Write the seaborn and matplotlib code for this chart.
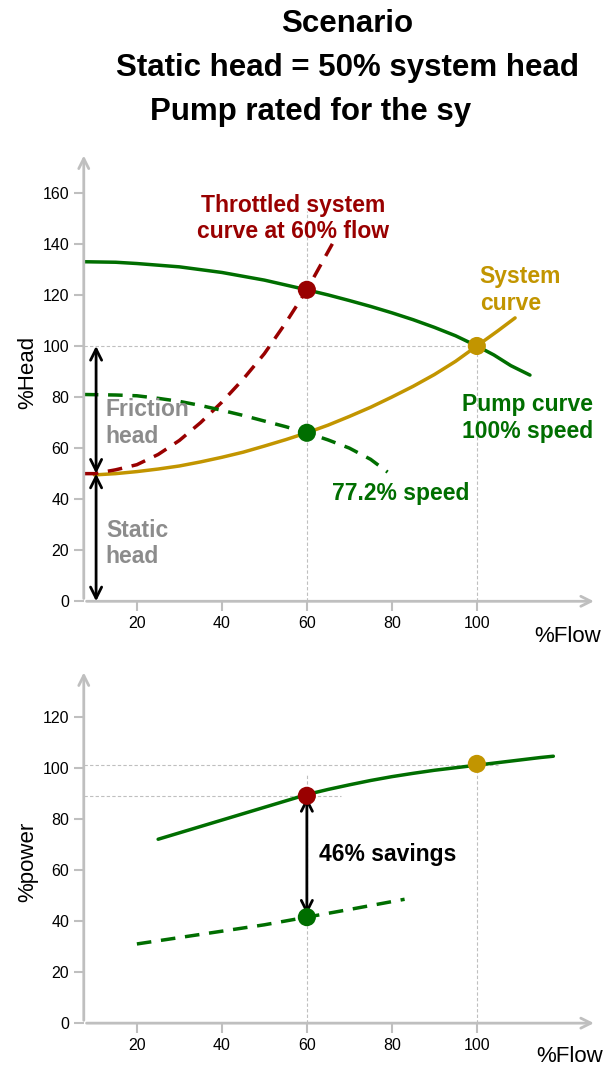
import matplotlib
matplotlib.use("Agg")
import matplotlib.pyplot as plt
import pandas as pd
import seaborn as sns

# --- data ---
pump_flow = [7.5, 15, 20, 30, 40, 50, 60, 65, 70, 75, 80, 85, 90, 95, 100, 104, 108, 112.5]
pump_head = [133, 132.8, 132.3, 131, 128.8, 125.8, 122, 120, 117.8, 115.5, 113, 110.3,
             107.3, 104, 100, 96.5, 92.3, 88.6]

system_flow = [10, 15, 20, 25, 30, 35, 40, 45, 50, 55, 60, 65, 70, 75, 80, 85, 90, 95,
               100, 105, 109]
system_head = [49.5, 50, 50.8, 51.8, 53, 54.6, 56.4, 58.4, 60.8, 63.3, 66, 69, 72.4, 76,
               80, 84.2, 88.8, 94, 100, 106, 111]

throttled_flow = [7.5, 10, 15, 20, 25, 30, 35, 40, 45, 50, 55, 60, 63, 66]
throttled_head = [50, 50, 51.5, 53.5, 57.5, 63, 70, 78, 87, 97, 109, 122, 131, 140]

reduced_flow = [7.5, 15, 20, 25, 30, 35, 40, 45, 50, 55, 60, 65, 70, 75, 79]
reduced_head = [81, 80.8, 80.5, 79.5, 78.3, 76.7, 74.8, 72.8, 70.6, 68.4, 66, 63.2, 60,
                55.6, 50.6]

head_pts_flow = [60, 100, 60]
head_pts_head = [122, 100, 66]

power_full_flow = [25, 30, 35, 40, 45, 50, 55, 60, 65, 70, 75, 80, 85, 90, 95, 100, 105,
                   110, 115, 118]
power_full = [72, 74.5, 77, 79.5, 82, 84.5, 87, 89.5, 91.5, 93.3, 95, 96.5, 97.8, 99, 100,
              101, 102, 103, 104, 104.5]

power_red_flow = [20, 30, 40, 50, 60, 70, 83]
power_red = [31, 33.5, 36, 38.5, 41.5, 44.5, 48.5]

power_pts_flow = [60, 100, 60]
power_pts = [89, 101.5, 41.5]

pt_names = ["throttled", "design", "reduced"]
flow_ticks = [20, 40, 60, 80, 100]
head_ticks = [0, 20, 40, 60, 80, 100, 120, 140, 160]
power_ticks = [0, 20, 40, 60, 80, 100, 120]

RED = "#990000"
GREEN = "#006e00"
GOLD = "#c29500"
GRAY = "#bfbfbf"
TXT_GRAY = "#8c8c8c"
pt_colors = {"throttled": RED, "design": GOLD, "reduced": GREEN}
DASH = (4.2, 2.8)
LW = 2.5

sns.set_style("white")
plt.rcParams["font.family"] = ["Liberation Sans", "DejaVu Sans"]
plt.rcParams["text.color"] = "black"

fig = plt.figure(figsize=(6.07, 10.68), dpi=100)
ax1 = fig.add_axes([0.138, 0.437, 0.845, 0.42])
ax2 = fig.add_axes([0.138, 0.042, 0.845, 0.331])


def style_axis(ax, ylim, yticks):
    ax.set_xlim(7.5, 128.2)
    ax.set_ylim(*ylim)
    for s in ax.spines.values():
        s.set_visible(False)
    ax.set_xticks(flow_ticks)
    ax.set_yticks(yticks)
    ax.tick_params(axis="both", colors=GRAY, labelcolor="black", labelsize=11.5,
                   length=7, width=1.5, direction="out", left=True, bottom=True)
    ax.set_xlabel("")
    ax.set_ylabel("")
    arrow = dict(arrowstyle="->", color=GRAY, lw=2, mutation_scale=18)
    ax.annotate("", xy=(0, 1), xytext=(0, 0), xycoords="axes fraction",
                arrowprops=arrow, annotation_clip=False)
    ax.annotate("", xy=(1, 0), xytext=(0, 0), xycoords="axes fraction",
                arrowprops=arrow, annotation_clip=False)


def ref_line(ax, xs, ys):
    ax.plot(xs, ys, color=GRAY, lw=0.8, ls=(0, (3, 2)), zorder=1)


def dashed(ax, x, y, color):
    sns.lineplot(x=x, y=y, ax=ax, color=color, lw=LW)
    ax.lines[-1].set_dashes(DASH)


# ---------------- head chart ----------------
ref_line(ax1, [7.5, 102], [100, 100])
ref_line(ax1, [60, 60], [0, 153])
ref_line(ax1, [100, 100], [0, 100])

sns.lineplot(x=pump_flow, y=pump_head, ax=ax1, color=GREEN, lw=LW)
sns.lineplot(x=system_flow, y=system_head, ax=ax1, color=GOLD, lw=LW)
dashed(ax1, throttled_flow, throttled_head, RED)
dashed(ax1, reduced_flow, reduced_head, GREEN)

head_df = pd.DataFrame({"flow": head_pts_flow, "head": head_pts_head, "pt": pt_names})
sns.scatterplot(data=head_df, x="flow", y="head", hue="pt", palette=pt_colors,
                s=170, edgecolor="none", ax=ax1, legend=False, zorder=5)
style_axis(ax1, (0, 175.7), head_ticks)

dbl = dict(arrowstyle="<->", color="black", lw=2, mutation_scale=20,
           shrinkA=0, shrinkB=0)
ax1.annotate("", xy=(10.4, 100), xytext=(10.4, 50), arrowprops=dbl)
ax1.annotate("", xy=(10.4, 50), xytext=(10.4, 0), arrowprops=dbl)

lab = dict(fontsize=16.5, fontweight="bold", linespacing=1.2)
ax1.text(56.7, 150, "Throttled system\ncurve at 60% flow", color=RED,
         ha="center", va="center", **lab)
ax1.text(100.7, 122, "System\ncurve", color=GOLD, ha="left", va="center", **lab)
ax1.text(96.5, 71.8, "Pump curve\n100% speed", color=GREEN, ha="left", va="center", **lab)
ax1.text(65.9, 42.4, "77.2% speed", color=GREEN, ha="left", va="center", **lab)
ax1.text(12.7, 69.8, "Friction\nhead", color=TXT_GRAY, ha="left", va="center", **lab)
ax1.text(12.7, 22.7, "Static\nhead", color=TXT_GRAY, ha="left", va="center", **lab)

# ---------------- power chart ----------------
ref_line(ax2, [7.5, 105], [101, 101])
ref_line(ax2, [7.5, 68], [89, 89])
ref_line(ax2, [60, 60], [0, 97])
ref_line(ax2, [100, 100], [0, 104])

sns.lineplot(x=power_full_flow, y=power_full, ax=ax2, color=GREEN, lw=LW)
dashed(ax2, power_red_flow, power_red, GREEN)

power_df = pd.DataFrame({"flow": power_pts_flow, "power": power_pts, "pt": pt_names})
sns.scatterplot(data=power_df, x="flow", y="power", hue="pt", palette=pt_colors,
                s=170, edgecolor="none", ax=ax2, legend=False, zorder=5)
style_axis(ax2, (0, 138.4), power_ticks)
ax2.annotate("", xy=(60, 88.5), xytext=(60, 42.5), arrowprops=dict(dbl, zorder=6))
ax2.text(62.8, 65.9, "46% savings", color="black", ha="left", va="center",
         fontsize=16.5, fontweight="bold")

# ---------------- figure texts ----------------
fig.text(28 / 607, 1 - 372 / 1068, "%Head", rotation=90, ha="center", va="center", fontsize=16)
fig.text(568 / 607, 1 - 637 / 1068, "%Flow", ha="center", va="center", fontsize=16)
fig.text(28 / 607, 1 - 862 / 1068, "%power", rotation=90, ha="center", va="center", fontsize=16)
fig.text(570 / 607, 1 - 1057 / 1068, "%Flow", ha="center", va="center", fontsize=16)

title = dict(ha="center", va="center", fontsize=22.5, fontweight="bold", color="black")
fig.text(347 / 607, 1 - 24 / 1068, "Scenario", **title)
fig.text(348 / 607, 1 - 68 / 1068, "Static head = 50% system head", **title)
fig.text(311 / 607, 1 - 112 / 1068, "Pump rated for the sy", **title)

fig.savefig("out.png", dpi=100)
